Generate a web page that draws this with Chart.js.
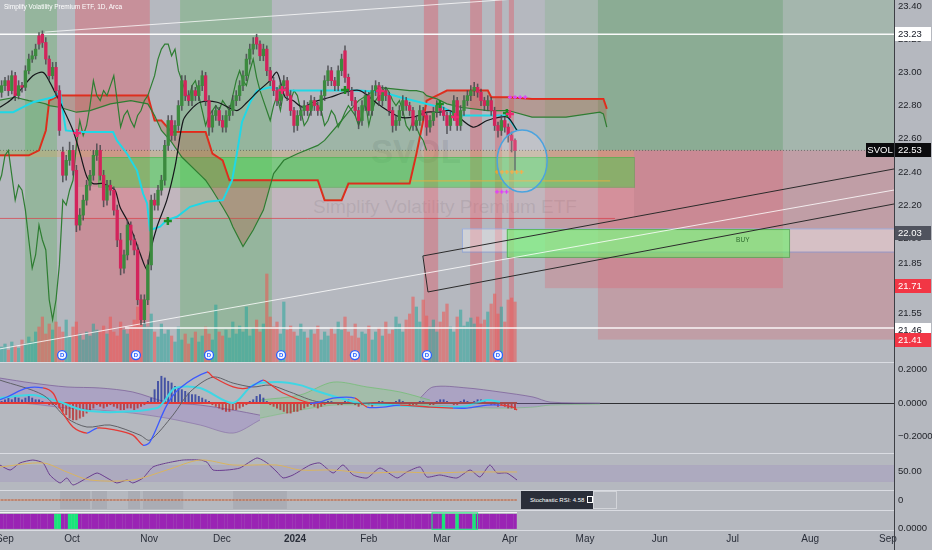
<!DOCTYPE html>
<html>
<head>
<meta charset="utf-8">
<script src="https://cdn.jsdelivr.net/npm/chart.js@4.4.1/dist/chart.umd.min.js"></script>
<style>
html, body { margin: 0; padding: 0; }
body { width: 932px; height: 550px; overflow: hidden; position: relative; background: #b5b8bf; font-family: "Liberation Sans", Arial, sans-serif; }
.pane { position: absolute; left: 0; width: 932px; }
.sep { position: absolute; left: 0; width: 894px; height: 1px; background: rgba(222,224,230,0.9); }
#axisTail { position: absolute; left: 894px; top: 530px; width: 1px; height: 20px; background: #3d3f45; }
#wm1 { position: absolute; left: 371px; top: 133px; font: bold 33px "Liberation Sans", Arial, sans-serif; color: rgba(95,100,110,0.18); }
#wm2 { position: absolute; left: 313px; top: 196px; font: 19px "Liberation Sans", Arial, sans-serif; color: rgba(95,100,110,0.2); white-space: nowrap; }
#title { position: absolute; left: 4px; top: 3px; font: 6.5px "Liberation Sans", Arial, sans-serif; color: #fff; white-space: nowrap; }
#stochTip { position: absolute; left: 521px; top: 491px; width: 72px; height: 18px; background: #2a2e39; color: #fff; font: 6px "Liberation Sans", Arial, sans-serif; line-height: 18px; padding-left: 9px; box-sizing: border-box; white-space: nowrap; }
#stochTip span { display: inline-block; width: 4px; height: 5px; border: 1px solid #fff; margin-left: 3px; vertical-align: -1px; }
#stochTip2 { position: absolute; left: 593px; top: 491px; width: 24px; height: 18px; border: 1px solid rgba(230,230,235,0.6); box-sizing: border-box; }
</style>
</head>
<body>
<div id="wm1">SVOL</div>
<div id="wm2">Simplify Volatility Premium ETF</div>
<div class="pane" style="top:0;height:362px"><canvas id="pricePane"></canvas></div>
<div class="pane" style="top:362px;height:91px"><canvas id="macdPane"></canvas></div>
<div class="pane" style="top:453px;height:37px"><canvas id="rsiPane"></canvas></div>
<div class="pane" style="top:490px;height:20px"><canvas id="stochPane"></canvas></div>
<div class="pane" style="top:510px;height:40px"><canvas id="histPane"></canvas></div>
<div class="sep" style="top:362px"></div>
<div class="sep" style="top:453px"></div>
<div class="sep" style="top:490px"></div>
<div class="sep" style="top:510px"></div>
<div class="sep" style="top:530px"></div>
<div id="axisTail"></div>
<div id="title">Simplify Volatility Premium ETF, 1D, Arca</div>
<div id="stochTip">Stochastic RSI: 4.58<span></span></div>
<div id="stochTip2"></div>
<script>
Chart.defaults.font.family = '"Liberation Sans", Arial, sans-serif';

// daily bars, index 0 = first trading day of Sep 2023
const firstBar = -1;
const opens = [
  22.88, 22.92, 22.95, 22.89, 22.98, 22.86, 22.92, 22.91, 23.01, 23.08,
  23.10, 23.22, 23.23, 23.18, 23.08, 22.98, 23.03, 22.89, 22.52, 22.38,
  22.47, 22.53, 22.41, 22.08, 22.14, 22.23, 22.32, 22.38, 22.50, 22.53,
  22.38, 22.23, 22.32, 22.29, 22.17, 21.99, 21.82, 21.90, 22.08, 21.99,
  21.93, 21.63, 21.51, 21.63, 21.84, 22.23, 22.20, 22.29, 22.35, 22.56,
  22.71, 22.62, 22.68, 22.80, 22.95, 22.86, 22.83, 22.89, 22.86, 22.92,
  22.98, 22.83, 22.67, 22.74, 22.77, 22.71, 22.67, 22.74, 22.77, 22.83,
  22.86, 22.92, 22.98, 23.08, 23.14, 23.21, 23.17, 23.10, 23.14, 23.01,
  22.95, 22.89, 22.83, 22.92, 22.95, 22.86, 22.77, 22.68, 22.74, 22.77,
  22.80, 22.77, 22.83, 22.80, 22.77, 22.86, 22.95, 23.01, 22.95, 22.92,
  23.01, 23.13, 22.97, 22.89, 22.83, 22.77, 22.71, 22.80, 22.86, 22.77,
  22.89, 22.92, 22.83, 22.89, 22.86, 22.77, 22.68, 22.71, 22.77, 22.83,
  22.80, 22.77, 22.68, 22.71, 22.77, 22.74, 22.67, 22.71, 22.76, 22.80,
  22.77, 22.74, 22.68, 22.74, 22.83, 22.68, 22.77, 22.83, 22.86, 22.89,
  22.91, 22.88, 22.83, 22.80, 22.83, 22.77, 22.68, 22.65, 22.71, 22.67,
  22.62, 22.59
];
const highs = [
  22.95, 22.97, 22.98, 23.01, 23.00, 22.95, 22.94, 23.04, 23.11, 23.13,
  23.17, 23.24, 23.25, 23.21, 23.10, 23.06, 23.06, 22.92, 22.55, 22.50,
  22.58, 22.56, 22.44, 22.18, 22.26, 22.35, 22.41, 22.53, 22.57, 22.56,
  22.41, 22.35, 22.35, 22.31, 22.20, 22.03, 21.93, 22.11, 22.10, 22.02,
  21.96, 21.66, 21.66, 21.87, 22.26, 22.27, 22.32, 22.38, 22.59, 22.74,
  22.74, 22.71, 22.83, 22.98, 22.98, 22.89, 22.92, 22.91, 22.95, 23.01,
  23.00, 22.86, 22.77, 22.80, 22.79, 22.74, 22.77, 22.80, 22.86, 22.89,
  22.95, 23.01, 23.11, 23.17, 23.21, 23.23, 23.19, 23.17, 23.16, 23.03,
  22.97, 22.91, 22.95, 22.98, 22.97, 22.89, 22.79, 22.77, 22.80, 22.83,
  22.82, 22.86, 22.85, 22.82, 22.89, 22.98, 23.04, 23.03, 22.97, 23.04,
  23.11, 23.16, 22.99, 22.91, 22.85, 22.79, 22.83, 22.89, 22.88, 22.92,
  22.95, 22.94, 22.92, 22.91, 22.88, 22.79, 22.74, 22.80, 22.86, 22.85,
  22.82, 22.79, 22.74, 22.80, 22.79, 22.76, 22.74, 22.79, 22.83, 22.82,
  22.79, 22.76, 22.77, 22.86, 22.85, 22.80, 22.86, 22.89, 22.92, 22.94,
  22.93, 22.90, 22.85, 22.86, 22.85, 22.79, 22.70, 22.74, 22.73, 22.69,
  22.64, 22.60
];
const lows = [
  22.85, 22.89, 22.86, 22.87, 22.83, 22.84, 22.88, 22.89, 22.99, 23.06,
  23.08, 23.14, 23.15, 23.05, 22.95, 22.96, 22.86, 22.62, 22.34, 22.35,
  22.44, 22.38, 22.04, 22.05, 22.11, 22.20, 22.29, 22.35, 22.47, 22.35,
  22.19, 22.20, 22.26, 22.14, 21.95, 21.78, 21.79, 21.87, 21.96, 21.90,
  21.60, 21.48, 21.49, 21.60, 21.81, 22.17, 22.17, 22.26, 22.32, 22.53,
  22.59, 22.59, 22.65, 22.77, 22.83, 22.80, 22.80, 22.83, 22.83, 22.89,
  22.80, 22.62, 22.64, 22.71, 22.68, 22.64, 22.64, 22.71, 22.74, 22.80,
  22.83, 22.89, 22.95, 23.05, 23.11, 23.14, 23.07, 23.07, 22.98, 22.92,
  22.86, 22.80, 22.80, 22.89, 22.83, 22.74, 22.64, 22.65, 22.71, 22.74,
  22.74, 22.74, 22.77, 22.74, 22.74, 22.83, 22.92, 22.92, 22.89, 22.89,
  22.98, 22.94, 22.86, 22.80, 22.74, 22.66, 22.68, 22.77, 22.74, 22.74,
  22.86, 22.80, 22.80, 22.83, 22.74, 22.64, 22.65, 22.68, 22.74, 22.77,
  22.74, 22.65, 22.65, 22.68, 22.71, 22.62, 22.64, 22.68, 22.73, 22.74,
  22.71, 22.63, 22.65, 22.71, 22.65, 22.65, 22.74, 22.80, 22.83, 22.86,
  22.85, 22.80, 22.77, 22.77, 22.74, 22.65, 22.61, 22.62, 22.64, 22.58,
  22.52, 22.41
];
const closes = [
  22.92, 22.95, 22.89, 22.98, 22.86, 22.92, 22.91, 23.01, 23.08, 23.10,
  23.14, 23.17, 23.18, 23.08, 22.98, 23.03, 22.89, 22.65, 22.38, 22.47,
  22.53, 22.41, 22.08, 22.14, 22.23, 22.32, 22.38, 22.50, 22.53, 22.38,
  22.23, 22.32, 22.29, 22.17, 21.99, 21.82, 21.90, 22.08, 21.99, 21.93,
  21.63, 21.51, 21.63, 21.84, 22.23, 22.20, 22.29, 22.35, 22.56, 22.71,
  22.62, 22.68, 22.80, 22.95, 22.86, 22.83, 22.89, 22.86, 22.92, 22.98,
  22.83, 22.67, 22.74, 22.77, 22.71, 22.67, 22.74, 22.77, 22.83, 22.86,
  22.92, 22.98, 23.08, 23.14, 23.17, 23.17, 23.10, 23.14, 23.01, 22.95,
  22.89, 22.83, 22.92, 22.95, 22.86, 22.77, 22.68, 22.74, 22.77, 22.80,
  22.77, 22.83, 22.80, 22.77, 22.86, 22.95, 23.01, 22.95, 22.92, 23.01,
  23.08, 22.97, 22.89, 22.83, 22.77, 22.71, 22.80, 22.86, 22.77, 22.89,
  22.92, 22.83, 22.89, 22.86, 22.77, 22.68, 22.71, 22.77, 22.83, 22.80,
  22.77, 22.68, 22.71, 22.77, 22.74, 22.67, 22.71, 22.76, 22.80, 22.77,
  22.74, 22.68, 22.74, 22.83, 22.68, 22.77, 22.83, 22.86, 22.89, 22.91,
  22.88, 22.83, 22.80, 22.83, 22.77, 22.68, 22.65, 22.71, 22.67, 22.62,
  22.59, 22.53
];
const volumes = [
  15, 18, 12, 20, 16, 14, 22, 18, 25, 20,
  30, 35, 45, 28, 38, 32, 40, 35, 30, 42,
  25, 35, 40, 28, 22, 30, 26, 38, 32, 30,
  36, 28, 45, 30, 26, 40, 32, 28, 35, 42,
  55, 62, 40, 35, 48, 30, 25, 38, 28, 32,
  26, 20, 35, 22, 28, 18, 24, 30, 20, 26,
  35, 28, 22, 57, 30, 26, 32, 24, 40, 28,
  36, 30, 55, 26, 34, 42, 30, 38, 88, 45,
  35, 40, 28, 60, 32, 36, 30, 26, 38, 30,
  24, 32, 28, 36, 22, 30, 26, 34, 28, 40,
  32, 45, 30, 26, 38, 24, 30, 28, 36, 22,
  30, 34, 26, 40, 28, 32, 45, 38, 30, 42,
  48, 65, 55, 40, 62, 46, 35, 42, 30, 40,
  50, 58, 35, 30, 45, 52, 36, 40, 44, 38,
  45, 38, 42, 50, 58, 68, 48, 55, 40, 62,
  64, 60
];

// ichimoku cloud (already displaced 26 bars forward)
const ichiX = [-2, 3, 7, 10, 12, 13, 16, 21, 25, 31, 37, 42, 44, 46, 49, 52, 58, 59, 61, 64, 66, 67, 70, 73, 76, 79, 82, 86, 92, 94, 99, 101, 104, 110, 119, 121, 123, 124, 127, 130, 134, 142, 143, 148, 155, 165, 175, 176, 177];
const spanA = [22.83, 22.85, 22.83, 22.82, 22.81, 22.80, 22.79, 22.76, 22.77, 22.81, 22.83, 22.81, 22.74, 22.65, 22.58, 22.49, 22.37, 22.35, 22.29, 22.19, 22.12, 22.07, 21.95, 22.05, 22.17, 22.39, 22.47, 22.51, 22.56, 22.59, 22.71, 22.76, 22.83, 22.91, 22.89, 22.89, 22.88, 22.86, 22.84, 22.81, 22.79, 22.77, 22.77, 22.77, 22.73, 22.73, 22.76, 22.75, 22.67];
const spanB = [22.50, 22.50, 22.50, 22.53, 22.65, 22.83, 22.86, 22.86, 22.86, 22.86, 22.86, 22.86, 22.71, 22.71, 22.64, 22.64, 22.64, 22.64, 22.51, 22.47, 22.35, 22.35, 22.35, 22.35, 22.35, 22.35, 22.35, 22.35, 22.35, 22.23, 22.23, 22.33, 22.33, 22.33, 22.33, 22.51, 22.71, 22.83, 22.86, 22.89, 22.89, 22.89, 22.85, 22.85, 22.84, 22.84, 22.84, 22.84, 22.78];
const baseLine = [[-1.5, 22.76], [2.4, 22.76], [5.3, 22.79], [8.2, 22.82], [14.1, 22.85], [16.2, 22.88], [17.9, 22.65], [22.1, 22.64], [31.8, 22.64], [32.9, 22.59], [35.9, 22.51], [38.8, 22.41], [40.6, 22.27], [41.8, 22.21], [42.6, 22.05], [45.6, 22.07], [47.6, 22.11], [50.6, 22.13], [54.4, 22.19], [59.4, 22.22], [64.1, 22.23], [66.8, 22.35], [68.2, 22.51], [69.7, 22.70], [72.1, 22.82], [74.1, 22.89], [77.9, 22.91], [83.8, 22.89], [100, 22.89], [104.4, 22.89], [111.2, 22.88], [116.2, 22.85], [122.1, 22.82], [125.9, 22.80], [128.8, 22.79], [132.9, 22.74], [147.6, 22.74], [150.6, 22.65]];
const emaLine = [[-1.5, 22.79], [1.5, 22.83], [4.4, 22.89], [8.2, 22.98], [11.2, 23.00], [13.2, 22.94], [14.7, 22.88], [16.2, 22.82], [20, 22.65], [22.1, 22.51], [24.1, 22.37], [25.9, 22.33], [28.8, 22.33], [30.9, 22.31], [32.4, 22.29], [33.8, 22.19], [35.9, 22.11], [37.6, 22.03], [39.7, 21.91], [41.8, 21.81], [42.6, 21.91], [44.7, 22.07], [47.6, 22.23], [50, 22.43], [52.4, 22.71], [54.4, 22.77], [57.4, 22.82], [62.4, 22.82], [68.2, 22.77], [71.2, 22.82], [74.1, 22.88], [77.9, 22.95], [80, 23.00], [82.4, 22.85], [84.7, 22.83], [87.6, 22.79], [90.6, 22.82], [95.6, 22.85], [100, 22.88], [104.4, 22.89], [110.3, 22.80], [116.2, 22.73], [120, 22.73], [124.1, 22.76], [127.9, 22.76], [130.9, 22.77], [137.6, 22.67], [141.8, 22.71], [145.6, 22.73], [147.9, 22.73], [150.6, 22.65]];
const crossDown = [[21.2, 22.635], [81.5, 22.894], [110.3, 22.888], [132.4, 22.731], [148.5, 22.749]];
const crossUp = [[47.9, 22.105], [100, 22.894], [127.9, 22.81], [147.6, 22.755]];
const orangeRow = [[144.7, 22.40], [146.2, 22.40], [147.6, 22.40], [149.1, 22.40], [150.5, 22.40], [151.9, 22.40]];
const magentaRows = [[144.7, 22.28], [146.1, 22.28], [147.5, 22.28], [148.5, 22.85], [150, 22.85], [151.5, 22.85], [153, 22.85]];
const dividendBars = [16.8, 38.5, 60, 81.2, 102.9, 124.1, 145];

// MACD pane
const macdHist = [
  0.01, 0.02, 0.03, 0.02, 0.04, 0.03, 0.02, 0.03, 0.04, 0.03,
  0.02, 0.02, 0.01, 0, -0.01, -0.01, -0.01, -0.03, -0.05, -0.07,
  -0.09, -0.10, -0.10, -0.09, -0.08, -0.06, -0.05, -0.03, -0.01, -0.02,
  -0.03, -0.02, -0.01, -0.02, -0.03, -0.04, -0.04, -0.03, -0.03, -0.04,
  -0.03, -0.02, -0.01, 0.01, 0.03, 0.08, 0.13, 0.16, 0.15, 0.13,
  0.12, 0.10, 0.09, 0.08, 0.07, 0.06, 0.05, 0.05, 0.04, 0.03,
  0.02, 0.01, -0.01, -0.02, -0.03, -0.04, -0.05, -0.05, -0.04, -0.04,
  -0.03, -0.02, -0.01, 0.01, 0.02, 0.04, 0.05, 0.03, 0.01, -0.01,
  -0.02, -0.03, -0.04, -0.05, -0.06, -0.06, -0.05, -0.05, -0.04, -0.03,
  -0.02, -0.01, -0.02, -0.03, -0.02, -0.01, 0.01, 0.01, 0, -0.01,
  -0.01, 0.01, 0.02, 0.01, -0.01, -0.02, -0.01, 0, -0.01, -0.02,
  -0.01, 0.01, 0.01, 0, -0.01, -0.01, 0.01, 0.02, 0.01, 0,
  -0.01, -0.02, -0.01, 0.01, 0.01, 0, -0.01, -0.01, 0.01, 0.02,
  0.02, 0.01, 0, -0.01, -0.01, 0.01, 0.02, 0.01, 0, 0.01,
  0.02, 0.02, 0.01, 0, -0.01, -0.01, -0.02, -0.01, -0.02, -0.03,
  -0.03, -0.04
];
const macdLine = [[-1.5, 0.02], [0.6, 0.036], [6.5, 0.09], [11.2, 0.09], [14.1, 0.06], [16.2, -0.03], [20, -0.143], [24.1, -0.179], [27.1, -0.149], [32.4, -0.161], [37.6, -0.191], [40.6, -0.251], [42.6, -0.233], [47.6, -0.012], [51.5, 0.09], [59.4, 0.185], [61.2, 0.155], [67.1, 0.096], [71.5, 0.09], [75.9, 0.137], [77.9, 0.113], [81.8, 0.06], [89.7, 0], [92.6, 0.006], [96.5, 0.03], [102.9, 0.03], [106.5, -0.024], [111.2, -0.024], [116.2, -0.012], [125, -0.024], [131.8, -0.03], [135.9, -0.03], [141.8, -0.012], [145.6, -0.012], [149.4, -0.024], [150.6, -0.042]];
const signalLine = [[-1.5, 0.137], [11.2, 0.048], [18.2, -0.09], [24.1, -0.143], [30.9, -0.131], [39.7, -0.191], [42.6, -0.221], [49.4, -0.072], [54.4, 0.066], [61.2, 0.155], [67.1, 0.119], [72.9, 0.096], [77.9, 0.107], [83.8, 0.066], [92.6, 0.006], [116.2, 0], [150.6, 0]];
const macdFast = [[-1.5, 0.03], [8.2, 0.048], [16.2, 0.006], [22.9, -0.042], [32.9, -0.054], [44.7, -0.03], [47.1, 0.018], [50, 0.09], [57.4, 0.09], [67.1, 0], [72.9, 0.107], [80, 0.125], [86.8, 0.107], [92.6, 0.066], [98.5, 0.03], [104.4, 0], [133.8, -0.024], [141.8, 0.018], [145.6, 0.006]];
const bandAUpper = [[-1.5, 0.149], [8.2, 0.119], [18.2, 0.096], [27.9, 0.09], [37.6, 0.066], [47.6, 0.006], [57.4, -0.012], [67.1, -0.042], [75, -0.072]];
const bandALower = [[-1.5, 0.006], [8.2, -0.006], [18.2, -0.03], [27.9, -0.042], [37.6, -0.06], [47.6, -0.09], [57.4, -0.131], [67.1, -0.179], [75, -0.101]];
const bandBUpper = [[75, 0.018], [86.8, 0.048], [96.5, 0.125], [106.5, 0.096], [116.2, 0.066], [125, 0.018]];
const bandBLower = [[75, -0.09], [86.8, -0.042], [96.5, -0.012], [106.5, -0.012], [116.2, -0.012], [125, -0.012]];
const bandCUpper = [[122.1, 0.03], [125.9, 0.096], [135.9, 0.09], [145.6, 0.066], [155.3, 0.036], [160.3, 0.006], [175, 0]];
const bandCLower = [[122.1, -0.012], [125.9, -0.012], [135.9, -0.024], [145.6, -0.03], [155.3, -0.024], [160.3, -0.012], [175, -0.006]];

// RSI pane
const rsiLine = [[-1.5, 60.5], [1.5, 52.4], [4.4, 63.8], [8.2, 68.6], [11.2, 63.8], [13.2, 44.3], [16.2, 31.4], [18.2, 39.5], [20, 28.1], [24.1, 39.5], [27.1, 47.6], [30, 39.5], [32.9, 31.4], [35.9, 36.2], [37.6, 31.4], [40.6, 39.5], [43.5, 57.3], [47.6, 63.8], [52.4, 68.6], [57.4, 68.6], [59.4, 65.1], [61.2, 52.4], [65.3, 52.4], [69.1, 55.7], [74.1, 71.9], [77.1, 63.8], [80, 49.2], [81.8, 39.5], [84.7, 44.3], [89.7, 60.5], [92.6, 63.8], [96.5, 47.6], [99.4, 60.5], [102.4, 44.3], [106.5, 39.5], [110.3, 55.7], [115.3, 39.5], [118.2, 49.2], [122.1, 57.3], [124.1, 41.1], [127.9, 44.3], [132.9, 39.5], [136.8, 52.4], [139.7, 41.1], [142.6, 60.5], [144.7, 47.6], [147.6, 47.6], [150.6, 36.2]];
const rsiAvg = [[-1.5, 57.3], [11.2, 63.8], [18.2, 49.2], [25, 36.2], [37.6, 36.2], [47.6, 52.4], [57.4, 68.6], [67.1, 60.5], [80, 60.5], [86.8, 52.4], [96.5, 52.4], [106.5, 47.6], [116.2, 49.2], [125.9, 47.6], [135.9, 49.2], [150.6, 49.2]];

// stochastic panes
const stochLine = [[-1.5, 0], [150.6, 0]];
const stochState = [
  0, 0, 0, 0, 0, 0, 0, 0, 0, 0, 0, 0, 0, 0, 0, 0, 1, 1, 0, 0,
  1, 1, 1, 0, 0, 0, 0, 0, 0, 0, 0, 0, 0, 0, 0, 0, 0, 0, 0, 0,
  0, 0, 0, 0, 0, 0, 0, 0, 0, 0, 0, 0, 0, 0, 0, 0, 0, 0, 0, 0,
  0, 0, 0, 0, 0, 0, 0, 0, 0, 0, 0, 0, 0, 0, 0, 0, 0, 0, 0, 0,
  0, 0, 0, 0, 0, 0, 0, 0, 0, 0, 0, 0, 0, 0, 0, 0, 0, 0, 0, 0,
  0, 0, 0, 0, 0, 0, 0, 0, 0, 0, 0, 0, 0, 0, 0, 0, 0, 0, 0, 0,
  0, 0, 0, 0, 0, 0, 0, 0, 0, 0, 1, 0, 0, 0, 1, 0, 0, 0, 0, 1,
  0, 0, 0, 0, 0, 0, 0, 0, 0, 0, 0, 0
];

// axis
const monthTickBars = [0, 19.7, 42.4, 63.8, 85.3, 107, 128.5, 148.5, 170.6, 192.6, 214, 236.8, 259.7];
const monthLabels = ['Sep', 'Oct', 'Nov', 'Dec', '2024', 'Feb', 'Mar', 'Apr', 'May', 'Jun', 'Jul', 'Aug', 'Sep'];
const priceTicks = [23.40, 23.20, 23.00, 22.80, 22.60, 22.40, 22.20, 22.00, 21.85, 21.55];
const X_MIN = -1.47, X_MAX = 261.47;

// chart drawings, in bar / price units
const signalZones = [[5.9, 15.3, 1], [20.6, 42.6, 0], [51.5, 78.5, 1], [123.2, 127.4, 0], [136.8, 140.3, 0], [144.1, 146.2, 0], [148.2, 149.7, 0]];
const boxes = [
  { b0: 158.8, b1: X_MAX, p0: 23.5, p1: 22.53, fill: 'rgba(76,175,80,0.16)' },
  { b0: 174.4, b1: 228.8, p0: 23.5, p1: 22.53, fill: 'rgba(56,142,60,0.22)' },
  { b0: 158.8, b1: 228.8, p0: 22.53, p1: 21.70, fill: 'rgba(242,54,69,0.2)' },
  { b0: 174.4, b1: X_MAX, p0: 22.53, p1: 21.39, fill: 'rgba(242,54,69,0.2)' },
  { b0: X_MIN, b1: 185, p0: 22.53, p1: 22.49, fill: 'rgba(214,170,100,0.35)' },
  { b0: 20.6, b1: 185, p0: 22.31, p1: 22.12, fill: 'rgba(255,180,190,0.18)' },
  { b0: 27.4, b1: 185, p0: 22.49, p1: 22.31, fill: 'rgba(60,220,60,0.45)', stroke: 'rgba(70,170,70,0.5)' },
  { b0: 134.4, b1: X_MAX, p0: 22.06, p1: 21.92, fill: 'rgba(255,255,255,0.35)', stroke: 'rgba(120,150,220,0.6)' },
  { b0: 147.6, b1: 230.6, p0: 22.056, p1: 21.888, fill: 'rgba(110,240,110,0.65)', stroke: 'rgba(80,170,80,0.8)' }
];
const drawings = [
  { pts: [[X_MIN, 23.23], [X_MAX, 23.23]], color: 'rgba(255,255,255,0.95)', width: 1.5 },
  { pts: [[35.3, 21.46], [X_MAX, 21.46]], color: 'rgba(255,255,255,0.9)', width: 1.5 },
  { pts: [[11.8, 23.243], [175, 23.478]], color: 'rgba(255,255,255,0.75)', width: 1 },
  { pts: [[-1.5, 21.334], [X_MAX, 22.291]], color: 'rgba(255,255,255,0.8)', width: 1 },
  { pts: [[122.9, 21.894], [X_MAX, 22.418]], color: '#2b2b2b', width: 1 },
  { pts: [[124.4, 21.677], [X_MAX, 22.207]], color: '#2b2b2b', width: 1 },
  { pts: [[122.9, 21.894], [124.4, 21.677]], color: '#2b2b2b', width: 1 },
  { pts: [[X_MIN, 22.53], [X_MAX, 22.53]], color: 'rgba(60,60,60,0.55)', width: 1, dash: [1, 2] },
  { pts: [[116, 22.346], [178, 22.346]], color: '#e0b040', width: 1 },
  { pts: [[X_MIN, 22.12], [179.4, 22.12]], color: 'rgba(220,60,70,0.7)', width: 1 }
];
const priceTags = [
  { v: 23.23, bg: '#ffffff', fg: '#131722' },
  { v: 22.53, bg: '#0b0b0d', fg: '#ffffff', name: 'SVOL' },
  { v: 22.03, bg: '#50535e', fg: '#ffffff' },
  { v: 21.71, bg: '#f23645', fg: '#ffffff' },
  { v: 21.46, bg: '#ffffff', fg: '#131722', shift: 2 },
  { v: 21.41, bg: '#f23645', fg: '#ffffff', shift: 4 }
];

const bars = closes.map((c, i) => i + firstBar);
const isUp = closes.map((c, i) => c >= opens[i]);
const pts = arr => arr.map(([x, y]) => ({ x, y }));

function xAxis(show) {
  return {
    type: 'linear', min: X_MIN, max: X_MAX, display: show, offset: false,
    grid: { display: false, drawTicks: false }, border: { display: false },
    afterBuildTicks: s => { s.ticks = monthTickBars.map(v => ({ value: v })); },
    ticks: {
      autoSkip: false, maxRotation: 0, padding: 3, color: '#2a2e39',
      font: c => ({ size: 10, weight: c.index === 4 ? 'bold' : 'normal' }),
      callback: (v, i) => monthLabels[i]
    },
    afterFit: s => { s.height = show ? 20 : 0; s.paddingLeft = 0; s.paddingRight = 0; }
  };
}
function yAxis(min, max, ticks, fmt) {
  return {
    position: 'right', min, max,
    grid: { display: false, drawTicks: false },
    border: { display: true, color: '#3d3f45', width: 1 },
    afterBuildTicks: s => { s.ticks = ticks.map(v => ({ value: v })); },
    ticks: { padding: 4, color: '#1e2026', font: { size: 9.5 }, callback: fmt },
    afterFit: s => { s.width = 38; s.paddingTop = 0; s.paddingBottom = 0; }
  };
}
function hiddenAxis(min, max) {
  return { display: false, min, max, afterFit: s => { s.width = 0; s.paddingTop = 0; s.paddingBottom = 0; } };
}
function line(data, color, width, extra) {
  return Object.assign({ type: 'line', data, borderColor: color, borderWidth: width, pointRadius: 0, fill: false, tension: 0 }, extra || {});
}
function marks(data, color, radius, width, order) {
  return { type: 'scatter', data: pts(data), pointStyle: 'cross', pointRadius: radius, borderColor: color, borderWidth: width, order };
}
function baseOptions(scales) {
  return {
    responsive: true, maintainAspectRatio: false, animation: false, events: [],
    layout: { padding: 0, autoPadding: false },
    plugins: { legend: { display: false }, tooltip: { enabled: false } },
    scales
  };
}
function clipArea(ctx, a) {
  ctx.beginPath(); ctx.rect(a.left, a.top, a.right - a.left, a.bottom - a.top); ctx.clip();
}

// ---------- price pane ----------
const priceOverlay = {
  id: 'priceOverlay',
  beforeDatasetsDraw(chart) {
    const { ctx, chartArea: a, scales: { x, y } } = chart;
    ctx.save();
    clipArea(ctx, a);
    signalZones.forEach(([b0, b1, up]) => {
      const x0 = x.getPixelForValue(b0), x1 = x.getPixelForValue(b1);
      ctx.fillStyle = up ? 'rgba(76,175,80,0.3)' : 'rgba(242,54,69,0.3)';
      ctx.fillRect(x0, a.top, x1 - x0, a.bottom - a.top);
    });
    boxes.forEach(bx => {
      const x0 = x.getPixelForValue(bx.b0), x1 = x.getPixelForValue(bx.b1);
      const y0 = y.getPixelForValue(bx.p0), y1 = y.getPixelForValue(bx.p1);
      ctx.fillStyle = bx.fill;
      ctx.fillRect(x0, y0, x1 - x0, y1 - y0);
      if (bx.stroke) {
        ctx.strokeStyle = bx.stroke; ctx.lineWidth = 1;
        ctx.strokeRect(x0 + 0.5, y0 + 0.5, x1 - x0, y1 - y0);
      }
    });
    ctx.restore();
  },
  afterDatasetsDraw(chart) {
    const { ctx, chartArea: a, scales: { x, y } } = chart;
    ctx.save();
    clipArea(ctx, a);
    // circle around the last bars
    const cx = x.getPixelForValue(152.1), cy = y.getPixelForValue(22.466);
    const rx = x.getPixelForValue(152.1 + 7.35) - cx, ry = cy - y.getPixelForValue(22.466 + 0.187);
    ctx.beginPath();
    ctx.ellipse(cx, cy, rx, ry, 0, 0, Math.PI * 2);
    ctx.fillStyle = 'rgba(255,255,255,0.15)';
    ctx.fill();
    ctx.strokeStyle = '#4aa3df'; ctx.lineWidth = 1.5; ctx.stroke();
    // BUY label
    ctx.fillStyle = '#2e6b2e';
    ctx.font = '6.5px "Liberation Sans", Arial, sans-serif';
    ctx.textAlign = 'center'; ctx.textBaseline = 'middle';
    ctx.fillText('BUY', x.getPixelForValue(217), y.getPixelForValue(21.99));
    // dividend markers
    dividendBars.forEach(b => {
      const px = x.getPixelForValue(b), py = y.getPixelForValue(21.297);
      ctx.beginPath(); ctx.arc(px, py, 4.5, 0, Math.PI * 2);
      ctx.fillStyle = '#f4f6ff'; ctx.fill();
      ctx.strokeStyle = '#2962ff'; ctx.lineWidth = 1.3; ctx.stroke();
      ctx.fillStyle = '#2962ff';
      ctx.font = 'bold 6px "Liberation Sans", Arial, sans-serif';
      ctx.fillText('D', px, py + 0.5);
    });
    ctx.restore();
  },
  afterDraw(chart) {
    const { ctx, chartArea: a, scales: { y } } = chart;
    ctx.save();
    ctx.font = '9.5px "Liberation Sans", Arial, sans-serif';
    ctx.textBaseline = 'middle';
    priceTags.forEach(t => {
      const py = Math.round(y.getPixelForValue(t.v)) + (t.shift || 0);
      ctx.fillStyle = t.bg;
      ctx.fillRect(a.right + 1, py - 7, 36, 14);
      ctx.fillStyle = t.fg; ctx.textAlign = 'left';
      ctx.fillText(t.v.toFixed(2), a.right + 4, py + 0.5);
      if (t.name) {
        ctx.fillStyle = t.bg;
        ctx.fillRect(a.right - 28, py - 7, 28, 14);
        ctx.fillStyle = t.fg; ctx.textAlign = 'center';
        ctx.fillText(t.name, a.right - 14, py + 0.5);
      }
    });
    ctx.restore();
  }
};

const priceDatasets = [
  { type: 'bar', data: closes.map((c, i) => ({ x: bars[i], y: [opens[i], c] })), backgroundColor: isUp.map(u => u ? '#3b8a3e' : '#d3245c'), borderWidth: 0, barThickness: 2.7, grouped: false, order: 0 },
  { type: 'bar', data: closes.map((c, i) => ({ x: bars[i], y: [lows[i], highs[i]] })), backgroundColor: 'rgba(70,70,75,0.85)', borderWidth: 0, barThickness: 0.9, grouped: false, order: 1 },
  line(pts(emaLine), '#15161a', 1.2, { tension: 0.3, order: 2 }),
  line(pts(baseLine), '#1fd8e6', 2, { order: 3 }),
  line(closes.map((c, i) => ({ x: bars[i] - 26, y: c })), '#2e7d32', 1.2, { order: 4 }),
  line(ichiX.map((x, i) => ({ x, y: spanA[i] })), '#2e7d32', 1.2, { order: 5, fill: { target: '+1', above: 'rgba(76,175,80,0.22)', below: 'rgba(176,96,70,0.35)' } }),
  line(ichiX.map((x, i) => ({ x, y: spanB[i] })), '#ea2418', 2, { order: 6 }),
  { type: 'bar', yAxisID: 'yv', data: volumes.map((v, i) => ({ x: bars[i], y: v })), backgroundColor: isUp.map(u => u ? 'rgba(38,166,154,0.55)' : 'rgba(239,83,80,0.55)'), borderWidth: 0, barThickness: 2.6, grouped: false, order: 20 },
  marks(crossDown, '#ec2a6f', 4, 2.5, -1),
  marks(crossUp, '#1e8a24', 4, 2.5, -1),
  marks(orangeRow, '#f0a030', 2, 1.3, -2),
  marks(magentaRows, '#e040fb', 2, 1.3, -2)
];
drawings.forEach((d, k) => priceDatasets.push(line(pts(d.pts), d.color, d.width, { order: 7 + k * 0.01, borderDash: d.dash || [] })));

new Chart(document.getElementById('pricePane'), {
  type: 'bar',
  data: { datasets: priceDatasets },
  options: baseOptions({
    x: xAxis(false),
    y: yAxis(21.255, 23.436, priceTicks, v => v.toFixed(2)),
    yv: hiddenAxis(0, 362)
  }),
  plugins: [priceOverlay]
});

// ---------- MACD pane ----------
const zeroLine = {
  id: 'zeroLine',
  beforeDatasetsDraw(chart) {
    const { ctx, chartArea: a, scales: { y } } = chart;
    const py = Math.round(y.getPixelForValue(0)) + 0.5;
    ctx.save();
    ctx.strokeStyle = '#2f3033'; ctx.lineWidth = 1;
    ctx.beginPath(); ctx.moveTo(a.left, py); ctx.lineTo(a.right, py); ctx.stroke();
    ctx.restore();
  }
};
new Chart(document.getElementById('macdPane'), {
  type: 'bar',
  data: {
    datasets: [
      line(pts(bandAUpper), 'rgba(120,90,150,0.7)', 1, { order: 30, tension: 0.3, fill: { target: '+1', above: 'rgba(149,117,205,0.3)', below: 'rgba(149,117,205,0.3)' } }),
      line(pts(bandALower), 'rgba(120,90,150,0.5)', 1, { order: 31, tension: 0.3 }),
      line(pts(bandBUpper), 'rgba(110,190,110,0.7)', 1, { order: 32, tension: 0.3, fill: { target: '+1', above: 'rgba(129,199,132,0.35)', below: 'rgba(129,199,132,0.35)' } }),
      line(pts(bandBLower), 'rgba(110,190,110,0.5)', 1, { order: 33, tension: 0.3 }),
      line(pts(bandCUpper), 'rgba(120,90,150,0.7)', 1, { order: 34, tension: 0.3, fill: { target: '+1', above: 'rgba(149,117,205,0.3)', below: 'rgba(149,117,205,0.3)' } }),
      line(pts(bandCLower), 'rgba(110,190,110,0.6)', 1, { order: 35, tension: 0.3 }),
      { type: 'bar', data: macdHist.map((v, i) => ({ x: bars[i], y: v })), backgroundColor: macdHist.map(v => v >= 0 ? 'rgba(48,63,159,0.85)' : 'rgba(183,28,28,0.7)'), borderWidth: 0, barThickness: 1.3, grouped: false, order: 20 },
      line([{ x: -1.5, y: 0 }, { x: 150.6, y: 0 }], '#e53935', 2, { order: 10 }),
      line(pts(macdFast), '#3fd6e4', 2, { order: 3, tension: 0.3 }),
      line(pts(signalLine), '#5f6066', 1, { order: 2, tension: 0.3 }),
      line(pts(macdLine), '#3d5afe', 1.3, { order: 1, tension: 0.3, segment: { borderColor: s => s.p1.parsed.y >= s.p0.parsed.y ? '#3d5afe' : '#e53935' } })
    ]
  },
  options: baseOptions({
    x: xAxis(false),
    y: yAxis(-0.298, 0.245, [0.2, 0, -0.2], v => (v < 0 ? '\u2212' : '') + Math.abs(v).toFixed(4))
  }),
  plugins: [zeroLine]
});

// ---------- RSI pane ----------
const rsiBand = {
  id: 'rsiBand',
  beforeDatasetsDraw(chart) {
    const { ctx, chartArea: a, scales: { y } } = chart;
    const y0 = y.getPixelForValue(60.5), y1 = y.getPixelForValue(33);
    ctx.save();
    ctx.fillStyle = 'rgba(126,87,194,0.14)';
    ctx.fillRect(a.left, y0, a.right - a.left, y1 - y0);
    ctx.restore();
  }
};
new Chart(document.getElementById('rsiPane'), {
  type: 'line',
  data: {
    datasets: [
      line(pts(rsiAvg), '#d9b45e', 1, { tension: 0.3 }),
      line(pts(rsiLine), '#6a3d8f', 1, { tension: 0.2 })
    ]
  },
  options: baseOptions({ x: xAxis(false), y: yAxis(20, 80, [50], v => v.toFixed(2)) }),
  plugins: [rsiBand]
});

// ---------- stochastic RSI pane ----------
const stochZones = {
  id: 'stochZones',
  beforeDatasetsDraw(chart) {
    const { ctx, chartArea: a, scales: { x } } = chart;
    ctx.save();
    ctx.fillStyle = 'rgba(110,110,122,0.16)';
    [[16.2, 25], [25.6, 30], [36.2, 39.7], [40.6, 52.4], [67.1, 82.9]].forEach(([b0, b1]) => {
      const x0 = x.getPixelForValue(b0), x1 = x.getPixelForValue(b1);
      ctx.fillRect(x0, a.top + 1, x1 - x0, a.bottom - a.top - 2);
    });
    ctx.restore();
  }
};
new Chart(document.getElementById('stochPane'), {
  type: 'line',
  data: {
    datasets: [
      line(pts(stochLine), '#b8572f', 1.2),
      line(pts(stochLine), 'rgba(255,255,255,0.95)', 1.4, { borderDash: [1.2, 2.2] })
    ]
  },
  options: baseOptions({ x: xAxis(false), y: yAxis(-1, 1, [0], v => String(v)) }),
  plugins: [stochZones]
});

// ---------- stochastic histogram + time axis ----------
const histFrame = {
  id: 'histFrame',
  afterDatasetsDraw(chart) {
    const { ctx, scales: { x, y } } = chart;
    const x0 = x.getPixelForValue(125.6), x1 = x.getPixelForValue(139);
    const y0 = y.getPixelForValue(1.1), y1 = y.getPixelForValue(-0.05);
    ctx.save();
    ctx.strokeStyle = '#1de97a'; ctx.lineWidth = 1;
    ctx.strokeRect(x0, y0, x1 - x0, y1 - y0);
    ctx.restore();
  }
};
new Chart(document.getElementById('histPane'), {
  type: 'bar',
  data: {
    datasets: [
      { type: 'bar', data: stochState.map((s, i) => ({ x: bars[i], y: 1 })), backgroundColor: stochState.map(s => s ? '#19e57a' : '#9a24b4'), borderWidth: 0, barThickness: 2.9, grouped: false, order: 2 },
      line([{ x: -1.5, y: 1.12 }, { x: 150.6, y: 1.12 }], 'rgba(255,255,255,0.85)', 1, { order: 1 })
    ]
  },
  options: baseOptions({ x: xAxis(true), y: yAxis(-0.1, 1.3, [0], v => v.toFixed(4)) }),
  plugins: [histFrame]
});
</script>
</body>
</html>
